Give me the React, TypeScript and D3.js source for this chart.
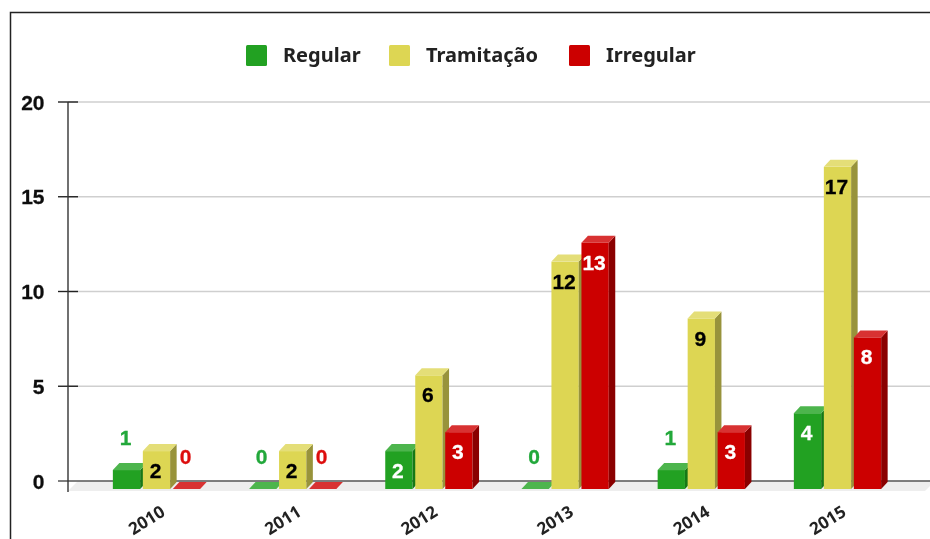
import React from "react";
import * as d3 from "d3";

const categories = ["2010", "2011", "2012", "2013", "2014", "2015"];
const regular = [1, 0, 2, 0, 1, 4];
const tramitacao = [2, 2, 6, 12, 9, 17];
const irregular = [0, 0, 3, 13, 3, 8];
const yTicks = [0, 5, 10, 15, 20];

const seriesList = [
  { name: "Regular", values: regular, front: "#22a122", top: "#4db54d", side: "#187818", inner: "#ffffff", outer: "#22a83a" },
  { name: "Tramitação", values: tramitacao, front: "#ddd652", top: "#e4de78", side: "#98933a", inner: "#000000", outer: "#000000" },
  { name: "Irregular", values: irregular, front: "#cc0000", top: "#d83333", side: "#8a0000", inner: "#ffffff", outer: "#dd1111" },
];

const W = 930, H = 539;
const y = d3.scaleLinear().domain([0, 20]).range([481, 102]);
const x = d3.scalePoint<string>().domain(categories).range([156.5, 837.5]);
const offset = d3.scaleBand<number>().domain([0, 1, 2]).range([-45, 45]).paddingInner(0.09).paddingOuter(0.045);
const DX = 6.5, DY = 8, TOPH = 7;
const tickFont = "'Liberation Sans', Arial, sans-serif";
const legendFont = "'Noto Sans', Tahoma, sans-serif";

const pts = (p: number[][]) => p.map((q) => q.join(",")).join(" ");

function Bar({ cat, si, v }: { cat: string; si: number; v: number }) {
  const s = seriesList[si];
  const x0 = (x(cat) as number) + (offset(si) as number);
  const w = offset.bandwidth();
  const base = y(0) + DY;
  const t = y(v) + DY;
  return (
    <g>
      {v > 0 && <rect x={x0} y={t} width={w} height={base - t} fill={s.front} />}
      {v > 0 && <polygon points={pts([[x0 + w, t], [x0 + w + DX, t - TOPH], [x0 + w + DX, base - TOPH], [x0 + w, base]])} fill={s.side} />}
      <polygon points={pts([[x0, t], [x0 + DX, t - TOPH], [x0 + w + DX, t - TOPH], [x0 + w, t]])} fill={s.top} />
    </g>
  );
}

function Label({ cat, si, v }: { cat: string; si: number; v: number }) {
  const s = seriesList[si];
  const x0 = (x(cat) as number) + (offset(si) as number);
  const w = offset.bandwidth();
  const t = y(v) + DY;
  const inside = v >= 2;
  const fill = inside ? s.inner : s.outer;
  return (
    <text x={x0 + w / 2 - 1} y={inside ? t + 19.5 : t - 33} dy="0.36em" textAnchor="middle" fontFamily={tickFont}
      fontWeight="bold" fontSize={21} fill={fill} stroke={fill} strokeWidth={0.3}>{v}</text>
  );
}

export default function App() {
  const legendX = [246, 389, 569];
  return (
    <svg width={W} height={H} viewBox={`0 0 ${W} ${H}`} style={{ position: "absolute", left: 0, top: 0, background: "#fff" }}>
      <defs>
        <filter id="soft" x="-5%" y="-5%" width="110%" height="110%"><feGaussianBlur stdDeviation="0.45" /></filter>
      </defs>
      <g filter="url(#soft)">
        <path d="M10.5,539V12.5H930" fill="none" stroke="#222" strokeWidth={1.5} />
        {seriesList.map((s, i) => (
          <g key={s.name}>
            <rect x={legendX[i]} y={45} width={21} height={21} rx={1.5} fill={s.front} />
            <text x={legendX[i] + 37} y={55} dy="0.36em" fontFamily={legendFont} fontWeight="bold" fontSize={20} fill="#222">{s.name}</text>
          </g>
        ))}
        <polygon points={pts([[78, y(0)], [935, y(0)], [925, y(0) + 10], [68, y(0) + 10]])} fill="#eeeeee" />
        {yTicks.map((t) => (
          <g key={t}>
            {t > 0 && <line x1={68} x2={930} y1={y(t)} y2={y(t)} stroke="#cfcfcf" strokeWidth={1.6} />}
            <line x1={58} x2={t > 0 ? 78 : 930} y1={y(t)} y2={y(t)} stroke={t > 0 ? "#222" : "#555"} strokeWidth={1.4} />
            <text x={44.5} y={y(t)} dy="0.36em" textAnchor="end" fontFamily={tickFont} fontWeight="bold" fontSize={21} fill="#111" stroke="#111" strokeWidth={0.3}>{t}</text>
          </g>
        ))}
        <line x1={68} x2={68} y1={y(20)} y2={y(0) + 11} stroke="#333" strokeWidth={1.4} />
        {categories.map((c, ci) => (
          <g key={c}>
            {seriesList.map((s, si) => <Bar key={s.name} cat={c} si={si} v={s.values[ci]} />)}
            {seriesList.map((s, si) => <Label key={s.name} cat={c} si={si} v={s.values[ci]} />)}
            <text transform={`translate(${(x(c) as number) - 10},520) rotate(-32)`} dy="0.36em" textAnchor="middle"
              fontFamily={legendFont} fontWeight="bold" fontSize={17} fill="#222">{c}</text>
          </g>
        ))}
      </g>
    </svg>
  );
}
